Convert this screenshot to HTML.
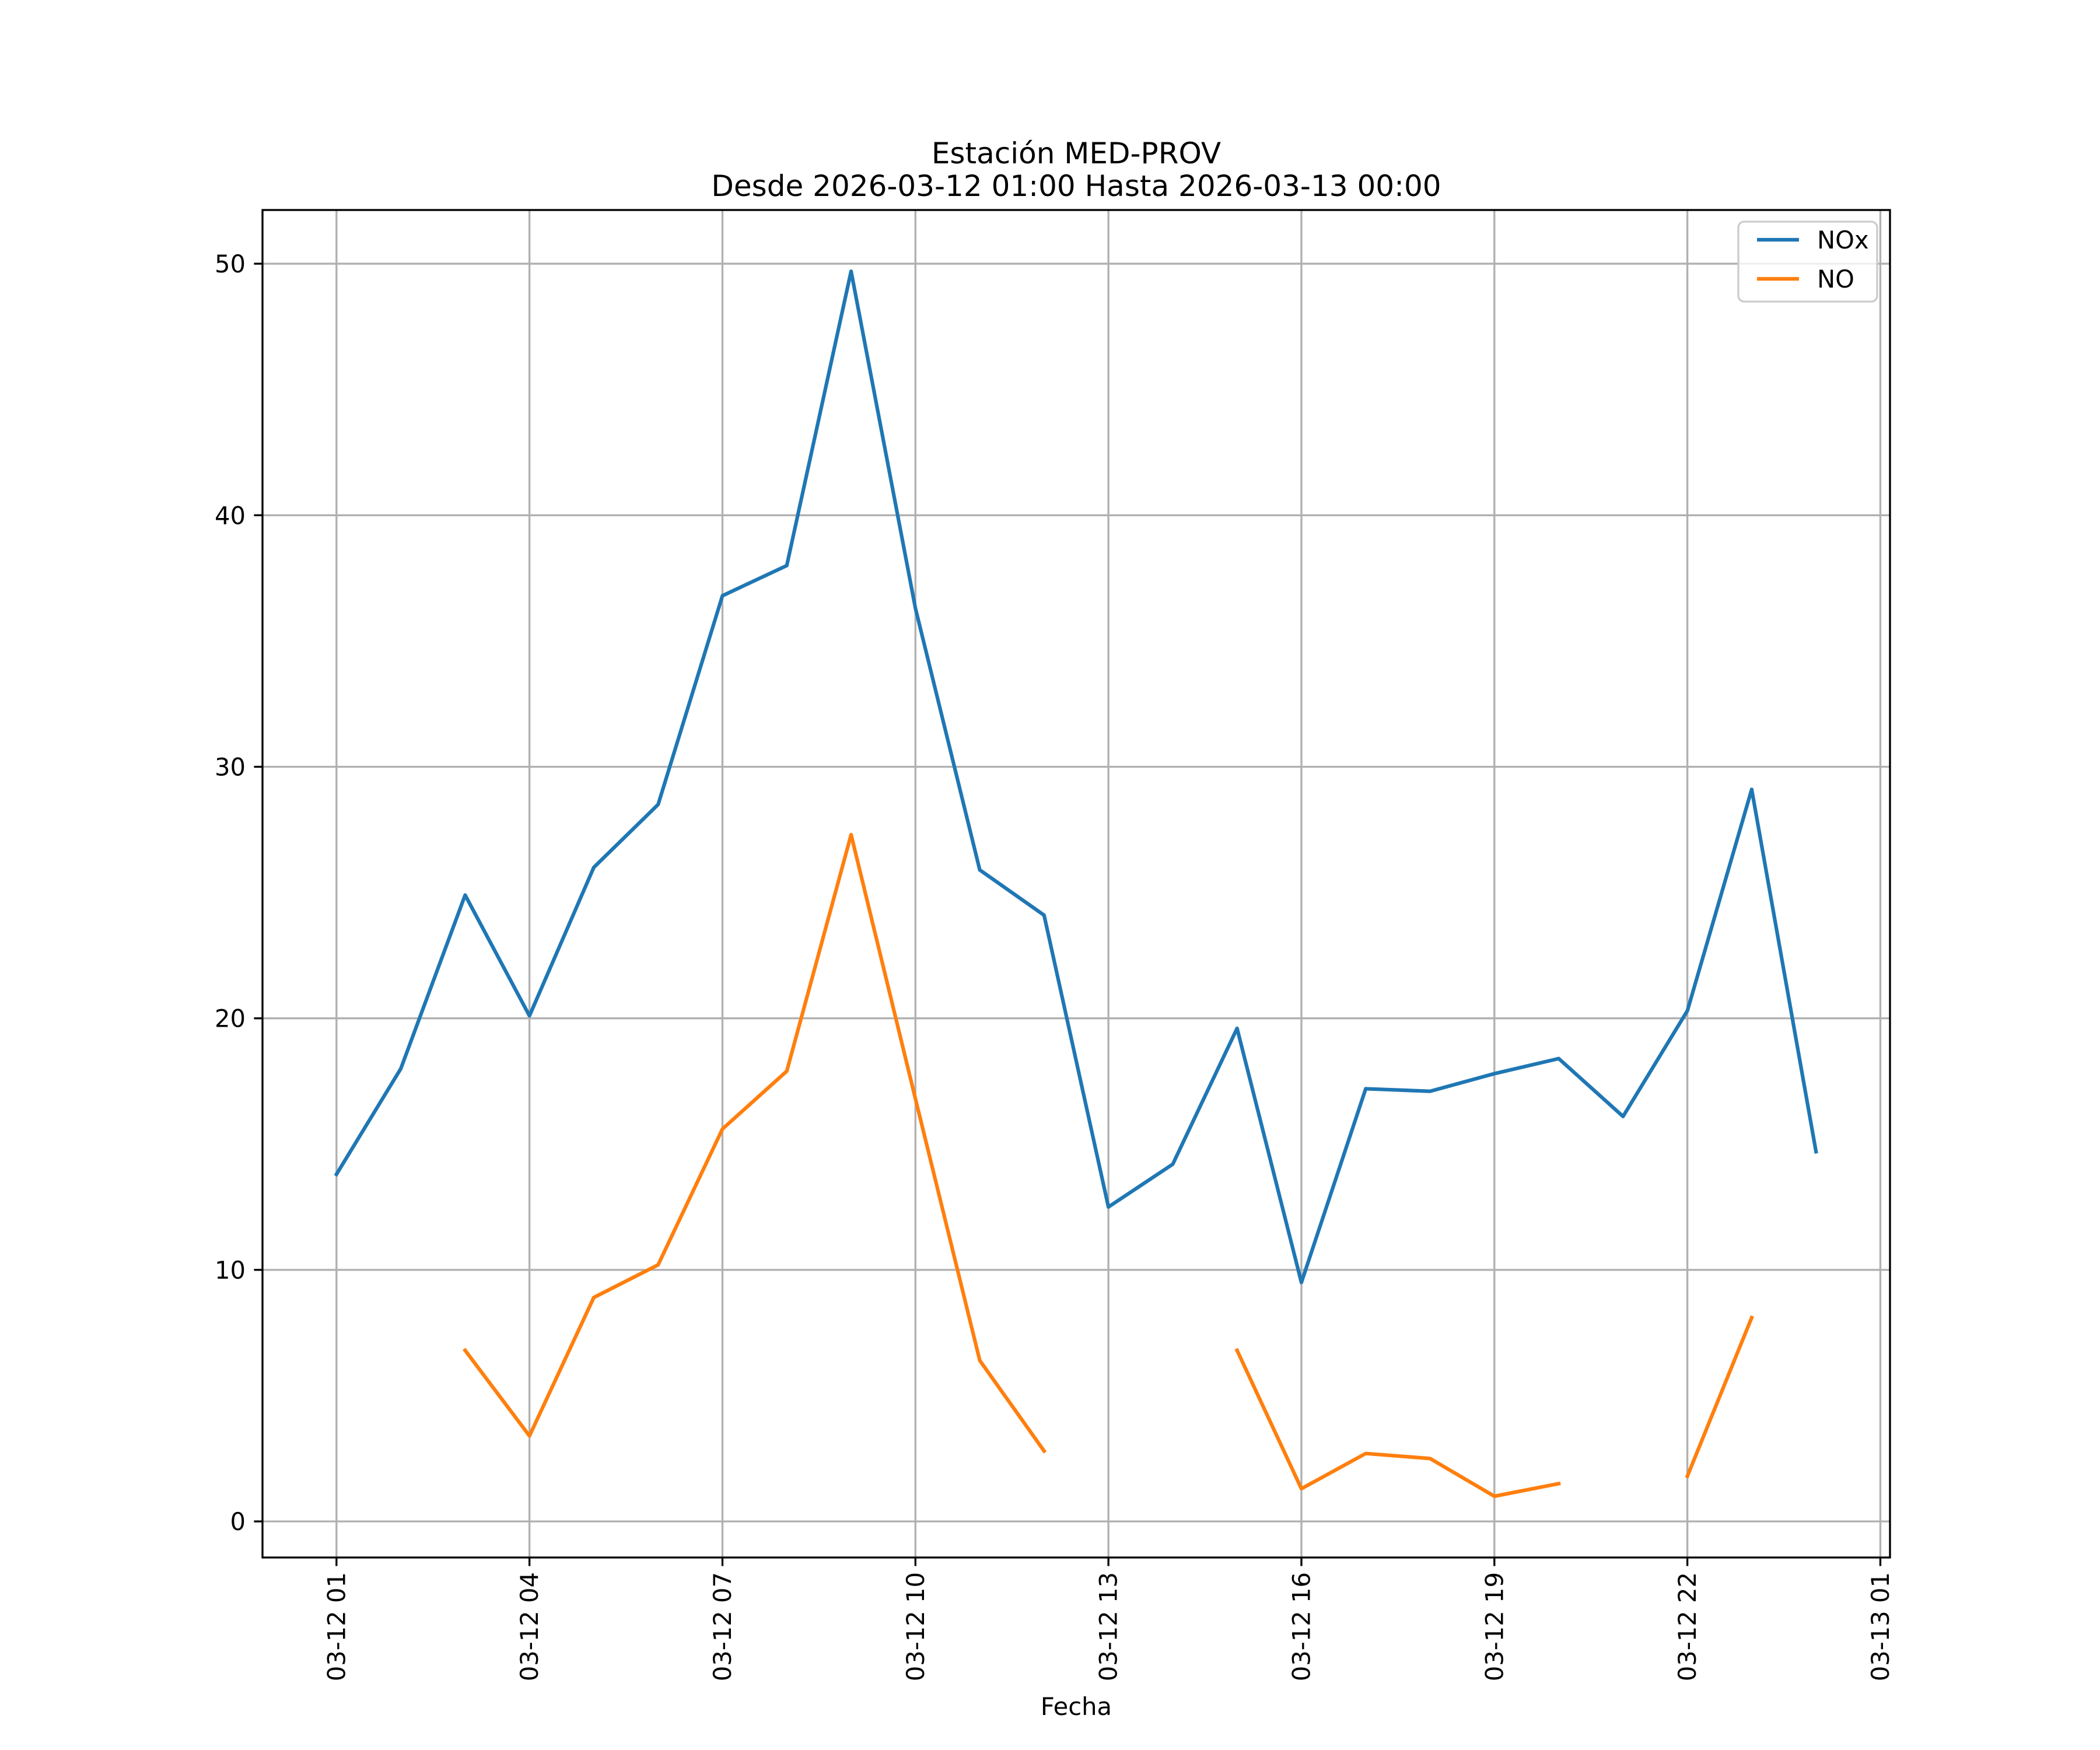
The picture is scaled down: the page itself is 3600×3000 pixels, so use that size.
<!DOCTYPE html>
<html><head><meta charset="utf-8"><style>html,body{margin:0;padding:0;background:#fff}svg{display:block}text{font-family:"DejaVu Sans","Liberation Sans",sans-serif}</style></head>
<body>
<svg id="chart" width="3600" height="3000" viewBox="0 0 3600 3000" xmlns="http://www.w3.org/2000/svg">
<rect width="3600" height="3000" fill="#fff"/>
<g id="grid"></g>
<g id="series"></g>
<rect x="450" y="360" width="2790" height="2310" fill="none" stroke="#000" stroke-width="3.33"/>
<g id="ticks"></g>
<text x="1845" y="280" font-size="50" text-anchor="middle">Estación MED-PROV</text>
<text x="1845" y="336" font-size="50" text-anchor="middle">Desde 2026-03-12 01:00 Hasta 2026-03-13 00:00</text>
<text x="1845" y="2940" font-size="41.67" text-anchor="middle">Fecha</text>
<g>
<rect x="2980" y="380" width="238" height="137" rx="10" fill="#fff" fill-opacity="0.8" stroke="#ccc" stroke-width="3.33"/>
<line x1="3012" y1="411" x2="3084" y2="411" stroke="#1f77b4" stroke-width="6.25"/>
<text x="3115" y="426" font-size="41.67">NOx</text>
<line x1="3012" y1="478" x2="3084" y2="478" stroke="#ff7f0e" stroke-width="6.25"/>
<text x="3115" y="493" font-size="41.67">NO</text>
</g>
</svg>
<script>
const hours = [1,2,3,4,5,6,7,8,9,10,11,12,13,14,15,16,17,18,19,20,21,22,23,24];
const noxValues = [13.8,18.0,24.9,20.1,26.0,28.5,36.8,38.0,49.7,36.3,25.9,24.1,12.5,14.2,19.6,9.5,17.2,17.1,17.8,18.4,16.1,20.3,29.1,14.7];
const noValues = [null,null,6.8,3.4,8.9,10.2,15.6,17.9,27.3,16.8,6.4,2.8,null,null,6.8,1.3,2.7,2.5,1.0,1.5,null,1.8,8.1,null];
const xTickHours = [1,4,7,10,13,16,19,22,25];
const xTickLabels = ["03-12 01","03-12 04","03-12 07","03-12 10","03-12 13","03-12 16","03-12 19","03-12 22","03-13 01"];
const yTicks = [0,10,20,30,40,50];

const NS="http://www.w3.org/2000/svg";
const L=450,R=3240,T=360,B=2670;
const all=noxValues.concat(noValues).filter(v=>v!==null);
const ymin0=Math.min(...all),ymax0=Math.max(...all),yr=ymax0-ymin0;
const ymin=ymin0-0.05*yr,ymax=ymax0+0.05*yr;
const xmin0=Math.min(...hours),xmax0=Math.max(...hours),xr=xmax0-xmin0;
const xmin=xmin0-0.05*xr,xmax=xmax0+0.05*xr;
function sx(h){return L+(h-xmin)/(xmax-xmin)*(R-L);}
function sy(v){return B-(v-ymin)/(ymax-ymin)*(B-T);}
function mk(tag,attrs,parent){const e=document.createElementNS(NS,tag);for(const k in attrs)e.setAttribute(k,attrs[k]);parent.appendChild(e);return e;}
const grid=document.getElementById('grid'),ticks=document.getElementById('ticks'),series=document.getElementById('series');
xTickHours.forEach((h,i)=>{
  const x=sx(h);
  const g=mk('line',{x1:x,y1:T,x2:x,y2:B,stroke:'#b0b0b0','stroke-width':3.33},grid);
  
  
  const t=mk('line',{x1:x,y1:B,x2:x,y2:B+14.6,stroke:'#000','stroke-width':3.33},ticks);
  
  
  const tx=mk('text',{x:0,y:0,'font-size':41.67,'text-anchor':'end','dominant-baseline':'central',transform:`translate(${x},${B+25}) rotate(-90)`},ticks);
  tx.textContent=xTickLabels[i];
  
  
});
yTicks.forEach(v=>{
  const y=sy(v);
  const g=mk('line',{x1:L,y1:y,x2:R,y2:y,stroke:'#b0b0b0','stroke-width':3.33},grid);
  
  
  const t=mk('line',{x1:L-14.6,y1:y,x2:L,y2:y,stroke:'#000','stroke-width':3.33},ticks);
  
  
  const tx=mk('text',{x:L-29,y:y+15,'font-size':41.67,'text-anchor':'end'},ticks);
  tx.textContent=String(v);
  
  
});
function drawSeries(vals,color,name){
  let seg=[];
  const segs=[];
  vals.forEach((v,i)=>{if(v===null){if(seg.length)segs.push(seg);seg=[];}else seg.push(sx(hours[i])+','+sy(v));});
  if(seg.length)segs.push(seg);
  segs.forEach(s=>{
    const p=mk('polyline',{points:s.join(' '),fill:'none',stroke:color,'stroke-width':6.25,'stroke-linejoin':'round','stroke-linecap':'square'},series);
    
    
  });
}
drawSeries(noxValues,'#1f77b4','nox-line');
drawSeries(noValues,'#ff7f0e','no-line');
</script>
</body></html>
